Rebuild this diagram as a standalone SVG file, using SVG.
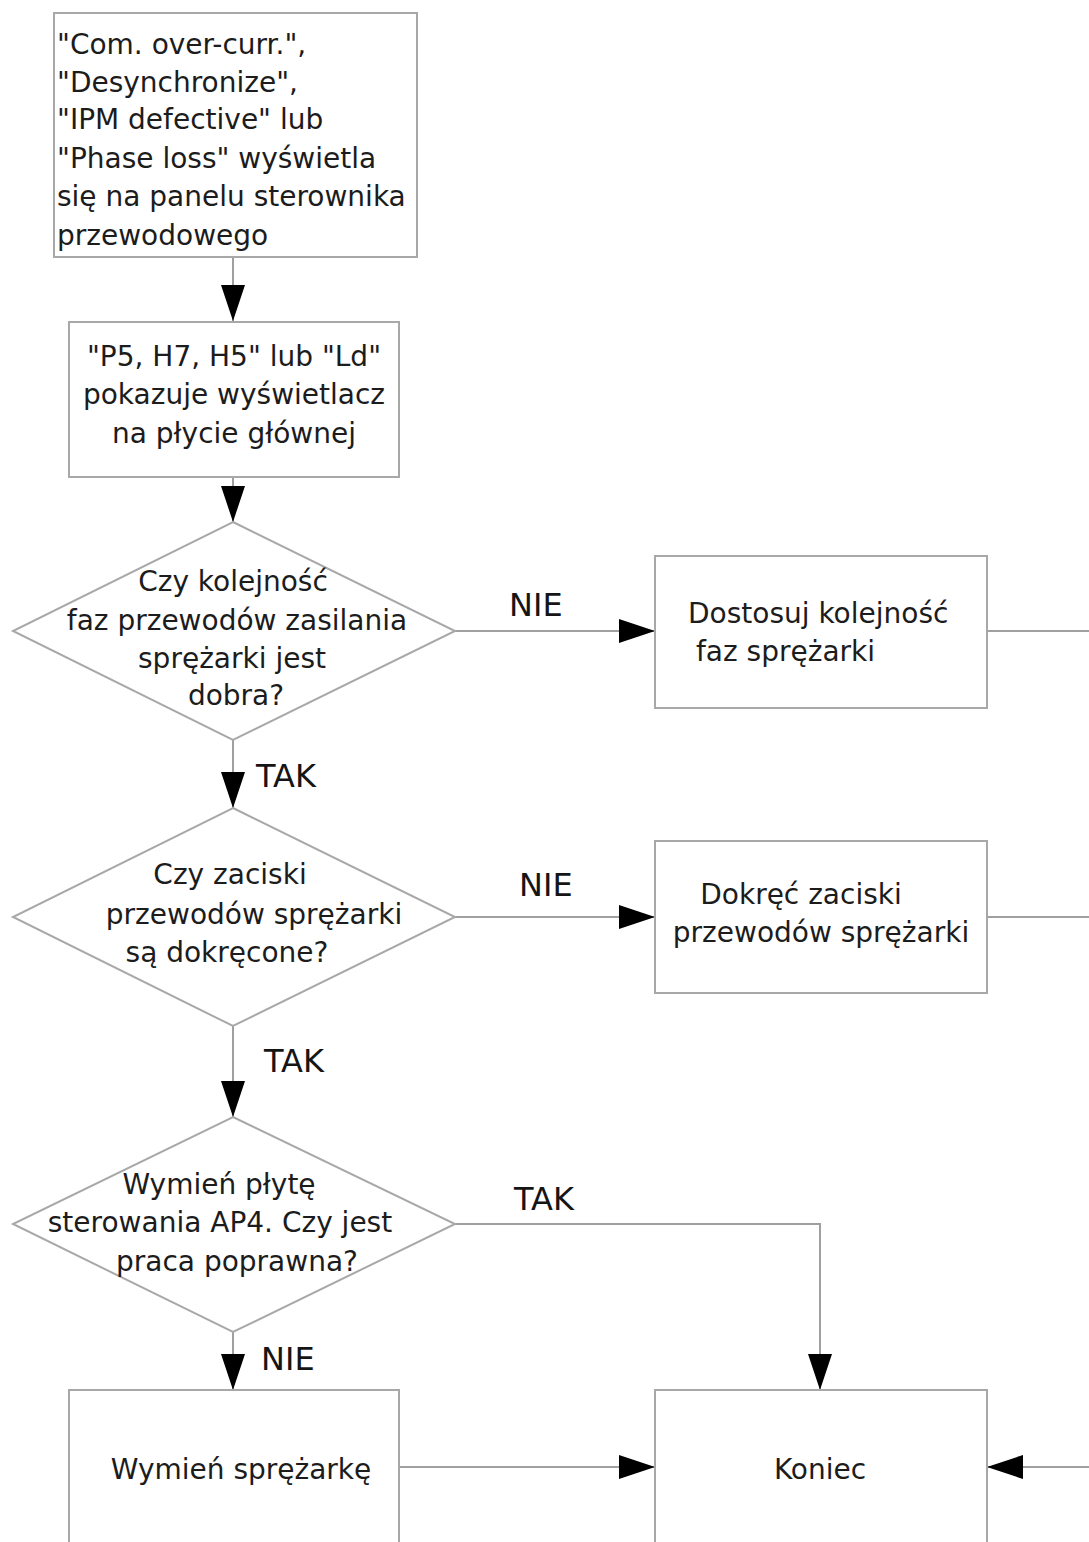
<svg xmlns="http://www.w3.org/2000/svg" width="1089" height="1542" viewBox="0 0 1089 1542">
  <style>
    .box { fill: #ffffff; stroke: #a8a8a8; stroke-width: 2; }
    .t { font-family: "DejaVu Sans", "Liberation Sans", sans-serif; font-size: 28px; fill: #1c1c1c; }
    .lbl { font-family: "DejaVu Sans", "Liberation Sans", sans-serif; font-size: 32px; fill: #151515; }
    .ln { fill: none; stroke: #a0a0a0; stroke-width: 2; }
  </style>
  <defs>
    <marker id="arr" viewBox="0 0 36 24" refX="36" refY="12" markerWidth="36" markerHeight="24" markerUnits="userSpaceOnUse" orient="auto">
      <path d="M0,0 L36,12 L0,24 Z" fill="#000000"/>
    </marker>
  </defs>
  <rect width="1089" height="1542" fill="#ffffff"/>

  <!-- connectors -->
  <g id="connectors">
    <path class="ln" d="M233,257 V321" marker-end="url(#arr)"/>
    <path class="ln" d="M233,477 V522" marker-end="url(#arr)"/>
    <path class="ln" d="M233,740 V808" marker-end="url(#arr)"/>
    <path class="ln" d="M233,1026 V1117" marker-end="url(#arr)"/>
    <path class="ln" d="M233,1332 V1390" marker-end="url(#arr)"/>
    <path class="ln" d="M455,631 H655" marker-end="url(#arr)"/>
    <path class="ln" d="M455,917 H655" marker-end="url(#arr)"/>
    <path class="ln" d="M455,1224 H820 V1390" marker-end="url(#arr)"/>
    <path class="ln" d="M399,1467 H655" marker-end="url(#arr)"/>
    <path class="ln" d="M987,631 H1089"/>
    <path class="ln" d="M987,917 H1089"/>
    <path class="ln" d="M1089,1467 H987" marker-end="url(#arr)"/>
    <text class="lbl" x="256" y="787">TAK</text>
    <text class="lbl" x="264" y="1072">TAK</text>
    <text class="lbl" x="509" y="616">NIE</text>
    <text class="lbl" x="519" y="896">NIE</text>
    <text class="lbl" x="514" y="1210">TAK</text>
    <text class="lbl" x="261" y="1370">NIE</text>
  </g>

  <g id="start">
    <rect class="box" x="54" y="13" width="363" height="244"/>
    <text class="t" x="57" y="54">"Com. over-curr.",</text>
    <text class="t" x="57" y="92">"Desynchronize",</text>
    <text class="t" x="57" y="129">"IPM defective" lub</text>
    <text class="t" x="57" y="168">"Phase loss" wyświetla</text>
    <text class="t" x="57" y="206">się na panelu sterownika</text>
    <text class="t" x="57" y="245">przewodowego</text>
  </g>

  <g id="display">
    <rect class="box" x="69" y="322" width="330" height="155"/>
    <text class="t" text-anchor="middle" x="234" y="366">"P5, H7, H5" lub "Ld"</text>
    <text class="t" text-anchor="middle" x="234" y="404">pokazuje wyświetlacz</text>
    <text class="t" text-anchor="middle" x="234" y="443">na płycie głównej</text>
  </g>

  <g id="phase-check">
    <polygon class="box" points="233,522 455,631 233,740 13,631"/>
    <text class="t" text-anchor="middle" x="233" y="591">Czy kolejność</text>
    <text class="t" text-anchor="middle" x="237" y="630">faz przewodów zasilania</text>
    <text class="t" text-anchor="middle" x="232" y="668">sprężarki jest</text>
    <text class="t" text-anchor="middle" x="236" y="705">dobra?</text>
  </g>

  <g id="phase-fix">
    <rect class="box" x="655" y="556" width="332" height="152"/>
    <text class="t" x="688" y="623">Dostosuj kolejność</text>
    <text class="t" x="696" y="661">faz sprężarki</text>
  </g>

  <g id="terminal-check">
    <polygon class="box" points="233,808 455,917 233,1026 13,917"/>
    <text class="t" text-anchor="middle" x="230" y="884">Czy zaciski</text>
    <text class="t" text-anchor="middle" x="254" y="924">przewodów sprężarki</text>
    <text class="t" text-anchor="middle" x="227" y="962">są dokręcone?</text>
  </g>

  <g id="terminal-fix">
    <rect class="box" x="655" y="841" width="332" height="152"/>
    <text class="t" text-anchor="middle" x="801" y="904">Dokręć zaciski</text>
    <text class="t" text-anchor="middle" x="821" y="942">przewodów sprężarki</text>
  </g>

  <g id="board-check">
    <polygon class="box" points="233,1117 455,1224 233,1332 13,1224"/>
    <text class="t" text-anchor="middle" x="219" y="1194">Wymień płytę</text>
    <text class="t" text-anchor="middle" x="220" y="1232">sterowania AP4. Czy jest</text>
    <text class="t" text-anchor="middle" x="237" y="1271">praca poprawna?</text>
  </g>

  <g id="replace-compressor">
    <rect class="box" x="69" y="1390" width="330" height="160"/>
    <text class="t" text-anchor="middle" x="241" y="1479">Wymień sprężarkę</text>
  </g>

  <g id="end">
    <rect class="box" x="655" y="1390" width="332" height="160"/>
    <text class="t" text-anchor="middle" x="820" y="1479">Koniec</text>
  </g>
</svg>
